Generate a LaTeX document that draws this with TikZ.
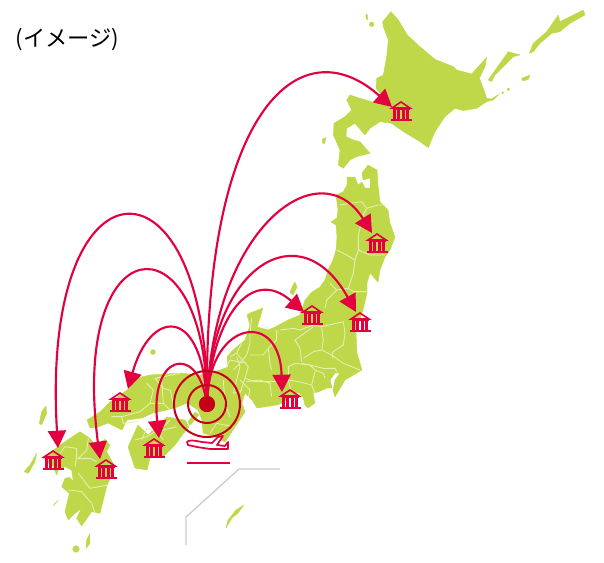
\documentclass[tikz,border=0pt]{standalone}
\usepackage{fontspec}
\newfontfamily\jpfont{Noto Sans CJK JP}
\usetikzlibrary{arrows.meta,calc}
\definecolor{land}{HTML}{BFD84A}
\definecolor{pref}{HTML}{E6EEB4}
\definecolor{crim}{HTML}{E2003E}
\definecolor{ringc}{HTML}{C40018}
\definecolor{routec}{HTML}{CCCCCC}
\tikzset{
  landarea/.style={fill=land,draw=land,line width=0.3pt,line join=round},
  prefline/.style={draw=pref,line width=0.65pt,line join=round},
  routearrow/.style={draw=crim,line width=1.6pt,-{Triangle[length=13pt,width=13.5pt]}},
  ring/.style={draw=ringc,line width=1.5pt},
  banknode/.style={inner sep=0pt,minimum width=16pt,minimum height=15pt},
  hubnode/.style={circle,fill=ringc,inner sep=0pt,minimum size=12pt},
  bankicon/.pic={
    \fill[crim] (-10.5,7.5) rectangle (10.5,9.5);
    \fill[crim] (-8.5,-3) rectangle (8.5,-1);
    \draw[crim,line width=1.2pt,line join=miter] (-9,-3) -- (0,-9) -- (9,-3) -- cycle;
    \foreach \cx in {-6.5,-2.2,2.2,6.5}{\fill[crim] (\cx-1.5,-1) rectangle (\cx+1.5,7.5);}
  },
  z1/.style={shift={(320,0)},scale=0.3333},
  z2/.style={shift={(230,160)},scale=0.3333},
  z3/.style={shift={(130,340)},scale=0.3333},
  z4/.style={shift={(10,370)},scale=0.3333},
  z6/.style={shift={(280,290)},scale=0.3333},
  z7/.style={shift={(200,300)},scale=0.3333},
  z8/.style={shift={(80,360)},scale=0.3333},
}
\begin{document}
\begin{tikzpicture}[x=0.75pt,y=-0.75pt]
\useasboundingbox (0,0) rectangle (604,562);
% Hokkaido and the north
\begin{scope}[z1]
\path[landarea] (213,35)--(235,60)--(262,105)--(300,140)--(345,178)--(400,200)--(410,210)--(455,222)--(500,172)--(495,200)--(478,235)--(490,265)--(500,295)--(515,297)--(538,282)--(520,300)--(500,305)--(470,325)--(430,332)--(405,325)--(375,350)--(345,395)--(325,443)--(300,425)--(250,395)--(215,370)--(180,365)--(150,385)--(135,405)--(105,370)--(80,385)--(78,410)--(100,420)--(120,425)--(150,460)--(110,470)--(90,480)--(70,505)--(55,495)--(60,450)--(40,405)--(42,370)--(75,350)--(95,330)--(80,300)--(90,285)--(120,295)--(165,308)--(185,285)--(168,265)--(170,235)--(190,225)--(200,170)--(205,120)--(190,80)--(188,65)--cycle;
\path[landarea] (505,240)--(515,225)--(540,190)--(565,155)--(600,165)--(580,170)--(550,200)--(525,225)--(515,245)--cycle;
\path[landarea] (628,160)--(640,130)--(680,95)--(715,45)--(720,65)--(760,45)--(790,30)--(795,45)--(750,70)--(720,95)--(695,100)--(660,130)--(640,155)--cycle;
\path[landarea] (605,235)--(630,225)--(625,238)--(608,243)--cycle;
\path[landarea] (565,268) circle (4);
\path[landarea] (548,278) circle (3);
\path[landarea] (155,73) circle (7);
\path[landarea] (138,42)--(143,45)--(143,60)--(138,55)--cycle;
\path[landarea] (7,418)--(18,412)--(14,430)--(8,430)--cycle;
\end{scope}
% Honshu
\path[landarea] (377,170)--(378,185)--(380,202)--(388,210)--(390,223)--(395,237)--(390,250)--(385,257)--(380,270)--(378,282)--(370,273)--(367,283)--(367,293)--(364,306)--(356,333)--(357,353)--(362,370)--(345,380)--(335,397)--(333,390)--(335,380)--(340,373)--(335,373)--(330,380)--(332,388)--(327,388)--(318,392)--(313,393)--(315,403)--(308,408)--(305,405)--(303,397)--(298,392)--(282,403)--(277,405)--(257,408)--(252,400)--(245,393)--(242,403)--(245,412)--(235,427)--(225,442)--(215,437)--(203,433)--(202,420)--(198,410)--(187,403)--(175,408)--(167,410)--(153,413)--(142,418)--(127,420)--(122,430)--(108,423)--(98,427)--(90,428)--(87,420)--(100,412)--(110,402)--(130,388)--(137,378)--(150,375)--(180,373)--(200,375)--(220,370)--(228,367)--(227,357)--(233,350)--(245,340)--(250,325)--(247,315)--(250,313)--(263,308)--(260,318)--(257,327)--(268,330)--(275,327)--(288,320)--(300,315)--(305,300)--(312,292)--(320,287)--(325,280)--(328,270)--(333,260)--(336,250)--(337,237)--(336,225)--(331,222)--(337,218)--(338,210)--(336,195)--(343,192)--(347,185)--(347,177)--(355,177)--(358,185)--(362,182)--(365,188)--(370,188)--(370,178)--(363,180)--(362,173)--(368,165)--cycle;
% Shikoku
\path[landarea] (128,447)--(138,425)--(148,435)--(167,417)--(185,420)--(189,427)--(183,434)--(175,445)--(170,450)--(163,457)--(150,458)--(147,470)--(135,468)--cycle;
% Kyushu
\begin{scope}[z4]
\path[landarea] (210,185)--(240,205)--(255,225)--(285,208)--(300,225)--(290,245)--(315,290)--(290,350)--(270,430)--(245,425)--(215,468)--(200,445)--(215,415)--(195,430)--(175,450)--(165,425)--(178,370)--(155,350)--(165,325)--(178,322)--(190,335)--(185,300)--(165,290)--(145,300)--(140,315)--(130,290)--(100,265)--(130,240)--(165,215)--cycle;
\path[landarea] (108,108)--(110,130)--(95,165)--(88,160)--(95,125)--cycle;
\path[landarea] (80,250)--(75,275)--(55,310)--(42,305)--(60,285)--cycle;
\path[landarea] (240,490)--(240,520)--(228,535)--(230,510)--cycle;
\path[landarea] (198,537) circle (10);
\path[landarea] (145,390)--(130,408)--(135,400)--cycle;
\end{scope}
% smaller islands
\path[landarea] (295,282)--(297,287)--(293,295)--(290,292)--(293,285)--cycle;
\path[landarea] (195,412)--(199,415)--(190,425)--(188,422)--cycle;
\path[landarea] (153,352) circle (2.5);
\path[landarea] (244,505)--(238,513)--(232,518)--(226,528)--(228,520)--(236,510)--cycle;
% prefecture lines
\begin{scope}[z2]
\draw[prefline] (330,135)--(360,130)--(395,125)--(410,145)--(445,135)--(470,135);
\draw[prefline] (410,145)--(400,165)--(385,225)--(385,270)--(420,285)--(465,285);
\draw[prefline] (320,270)--(350,285)--(375,300)--(385,270);
\draw[prefline] (375,300)--(370,340)--(355,385)--(370,395)--(410,395);
\draw[prefline] (300,370)--(320,390)--(355,385);
\draw[prefline] (320,390)--(290,420)--(285,445);
\end{scope}
\begin{scope}[z6]
\draw[prefline] (125,110)--(190,95)--(195,130)--(190,165)--(160,185)--(155,195);
\draw[prefline] (125,110)--(130,150)--(125,180);
\draw[prefline] (0,120)--(40,115)--(60,120)--(100,105)--(125,110);
\draw[prefline] (100,110)--(45,150)--(60,175)--(65,215);
\draw[prefline] (70,205)--(100,185)--(125,180)--(155,195)--(160,205);
\draw[prefline] (65,220)--(90,225)--(130,235)--(165,235)--(170,245);
\draw[prefline] (155,195)--(190,220)--(240,240);
\draw[prefline] (90,225)--(105,240)--(130,250)--(135,265);
\draw[prefline] (25,230)--(45,220)--(90,225);
\draw[prefline] (105,245)--(95,285)--(55,275)--(25,270)--(25,230);
\draw[prefline] (95,285)--(105,310);
\draw[prefline] (25,270)--(35,310);
\end{scope}
\begin{scope}[z7]
\draw[prefline] (155,55)--(150,100)--(150,130)--(140,165)--(115,195)--(100,210);
\draw[prefline] (150,165)--(190,165)--(205,145)--(230,120)--(230,90);
\draw[prefline] (205,145)--(210,190)--(215,210);
\draw[prefline] (110,170)--(120,200)--(110,240)--(100,280)--(125,270);
\draw[prefline] (140,245)--(180,240)--(210,250)--(215,290);
\draw[prefline] (120,240)--(150,270)--(145,290);
\end{scope}
\begin{scope}[z3]
\draw[prefline] (300,50)--(320,40)--(355,80)--(345,115)--(375,125)--(445,125);
\draw[prefline] (320,40)--(335,10);
\draw[prefline] (290,80)--(300,60)--(350,70);
\draw[prefline] (240,280)--(260,250)--(310,260);
\draw[prefline] (280,120)--(285,190)--(300,230);
\draw[prefline] (345,115)--(330,160);
\draw[prefline] (130,190)--(120,150)--(100,145)--(75,115)--(150,100);
\draw[prefline] (15,300)--(50,290)--(100,260)--(120,240);
\end{scope}
\begin{scope}[z8]
\draw[prefline] (95,170)--(125,170)--(180,155)--(210,130)--(220,90)--(200,70);
\draw[prefline] (125,170)--(130,190)--(175,185);
\draw[prefline] (210,130)--(250,130)--(270,150);
\draw[prefline] (250,130)--(245,60);
\draw[prefline] (185,240)--(200,205)--(230,215)--(290,200);
\draw[prefline] (230,215)--(250,240);
\end{scope}
\begin{scope}[z4]
\draw[prefline] (150,250)--(165,230)--(200,235)--(200,260)--(195,290);
\draw[prefline] (200,265)--(240,265)--(260,275);
\draw[prefline] (205,265)--(230,240)--(235,205);
\draw[prefline] (205,310)--(240,355)--(295,345);
\draw[prefline] (175,360)--(215,365)--(245,400)--(255,430);
\end{scope}
% route lines
\draw[routec,line width=1pt] (186,545)--(186,517)--(239,469)--(280,469);
% airport symbol
\draw[crim,line width=1.3pt,fill=white,line join=round] (187,442) .. controls (189,440) and (192,440) .. (202,442) -- (212,443) -- (218,437) -- (223,436) -- (217,445) -- (225,446) -- (228,442) -- (228,449) -- (210,449) -- (197,447) -- (188,445) -- cycle;
\draw[crim,line width=1.5pt] (187,463)--(230,463);
% banks (nodes)
\node[banknode] (b1) at (401,111) {};
\node[banknode] (b2) at (377,243) {};
\node[banknode] (b3) at (360,322) {};
\node[banknode] (b4) at (312,315) {};
\node[banknode] (b5) at (290,399) {};
\node[banknode] (b6) at (120,402) {};
\node[banknode] (b7) at (154,448) {};
\node[banknode] (b8) at (53,460) {};
\node[banknode] (b9) at (106,469) {};
\node[hubnode] (hub) at (207,404) {};
% arrows
\draw[routearrow] (hub) .. controls (205,110) and (300,25) .. ($(b1)+(-9,-4)$);
\draw[routearrow] (hub) .. controls (215,225) and (320,150) .. ($(b2)+(-5,-10)$);
\draw[routearrow] (hub) .. controls (213,265) and (300,212) .. ($(b3)+(-4,-10)$);
\draw[routearrow] (hub) .. controls (213,320) and (250,265) .. ($(b4)+(-8,-3)$);
\draw[routearrow] (hub) .. controls (212,320) and (280,310) .. ($(b5)+(-8,-7)$);
\draw[routearrow] (hub) .. controls (200,305) and (150,310) .. ($(b6)+(8,-13)$);
\draw[routearrow] (hub) .. controls (195,345) and (150,355) .. ($(b7)+(5,-10)$);
\draw[routearrow] (hub) .. controls (205,145) and (40,150) .. ($(b8)+(5,-12)$);
\draw[routearrow] (hub) .. controls (203,215) and (70,225) .. ($(b9)+(-6,-10)$);
% rings
\node[circle,ring,minimum size=49.5pt,inner sep=0pt] (ring1) at (hub) {};
\node[circle,ring,minimum size=28.5pt,inner sep=0pt] (ring2) at (hub) {};
\node[hubnode] (hubtop) at (hub) {};
% bank icons
\foreach \b in {b1,b2,b3,b4,b5,b6,b7,b8,b9}{\pic at (\b) {bankicon};}
\node[anchor=west,inner sep=0pt,font=\jpfont\fontsize{16.7pt}{16.7pt}\selectfont] (title) at (15.5,39.5) {(イメージ)};
\end{tikzpicture}
\end{document}
